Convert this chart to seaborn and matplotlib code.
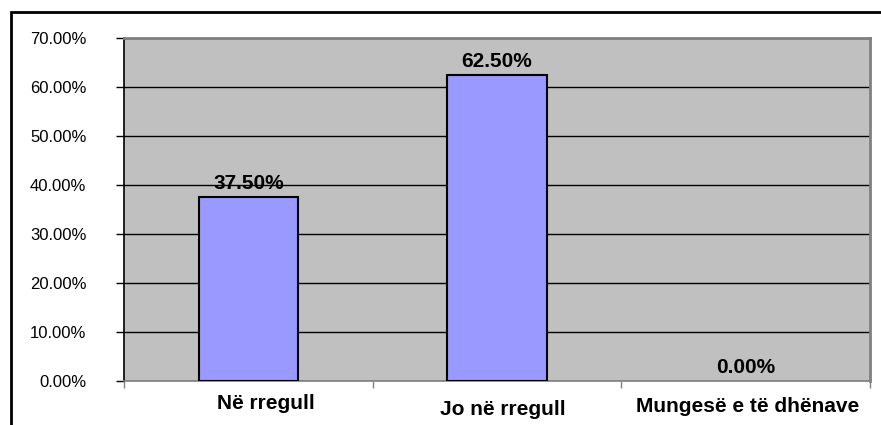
import matplotlib
matplotlib.use("Agg")
import matplotlib.pyplot as plt
import matplotlib.transforms as mtransforms
import seaborn as sns
import pandas as pd
from matplotlib.patches import Rectangle
from matplotlib.ticker import MultipleLocator, FuncFormatter, FixedLocator

categories = ["Në rregull", "Jo në rregull", "Mungesë e të dhënave"]
values = [37.50, 62.50, 0.00]

df = pd.DataFrame({"cat": categories, "val": values})

sns.set_theme(style="white")
plt.rcParams["font.family"] = ["Liberation Sans", "DejaVu Sans"]

fig = plt.figure(figsize=(8.81, 4.25), dpi=100)
ax = fig.add_axes([124/881, 1-381/425, (870-124)/881, (381-38)/425])
ax.set_facecolor("#C0C0C0")

sns.barplot(data=df, x="cat", y="val", ax=ax, color="#9999FF", width=0.4,
            edgecolor="black", linewidth=1.5, saturation=1, zorder=3)
for p, v in zip(ax.patches, values):
    if v == 0:
        p.set_edgecolor("none")

ax.set_xlim(-0.5, 2.5)
ax.set_ylim(0, 70)
ax.yaxis.set_major_locator(MultipleLocator(10))
ax.yaxis.set_major_formatter(FuncFormatter(lambda v, p: f"{v:.2f}%"))
ax.grid(axis="y", color="black", linewidth=1, zorder=0)
ax.set_axisbelow(True)

ax.set_xlabel("")
ax.set_ylabel("")
ax.tick_params(axis="y", labelsize=12, length=6, width=1, color="black",
               direction="out", left=True, pad=21, labelcolor="black")
ax.tick_params(axis="x", which="major", labelsize=15, length=0, pad=12, labelcolor="black")
# small per-label shifts as in the reference (pixels: dx, dy with y up)
label_shift = [(18, 4), (6, -2), (2, 1)]
for t, (dx, dy) in zip(ax.get_xticklabels(), label_shift):
    t.set_fontweight("bold")
    t.set_transform(t.get_transform() +
                    mtransforms.ScaledTranslation(dx / 100, dy / 100, fig.dpi_scale_trans))
ax.xaxis.set_minor_locator(FixedLocator([-0.5, 0.5, 1.5, 2.5]))
ax.tick_params(axis="x", which="minor", length=5, width=1, color="#808080",
               direction="out", bottom=True)

for side in ["top", "right"]:
    ax.spines[side].set_color("#808080")
    ax.spines[side].set_linewidth(2)
ax.spines["left"].set_color("black")
ax.spines["left"].set_linewidth(1.2)
ax.spines["bottom"].set_color("#808080")
ax.spines["bottom"].set_linewidth(1.2)

for i, v in enumerate(values):
    ax.annotate(f"{v:.2f}%", xy=(i, v), xytext=(0, 3), textcoords="offset points",
                ha="center", va="bottom", fontsize=15, fontweight="bold", color="black",
                zorder=5)

# outer chart frame (top and left visible, extending past the figure edges)
fig.patches.append(Rectangle((11/881, -0.2), 1.2, 1-12/425+0.2,
                             transform=fig.transFigure, fill=False,
                             edgecolor="black", linewidth=2, zorder=10))

fig.savefig("out.png", dpi=100)
